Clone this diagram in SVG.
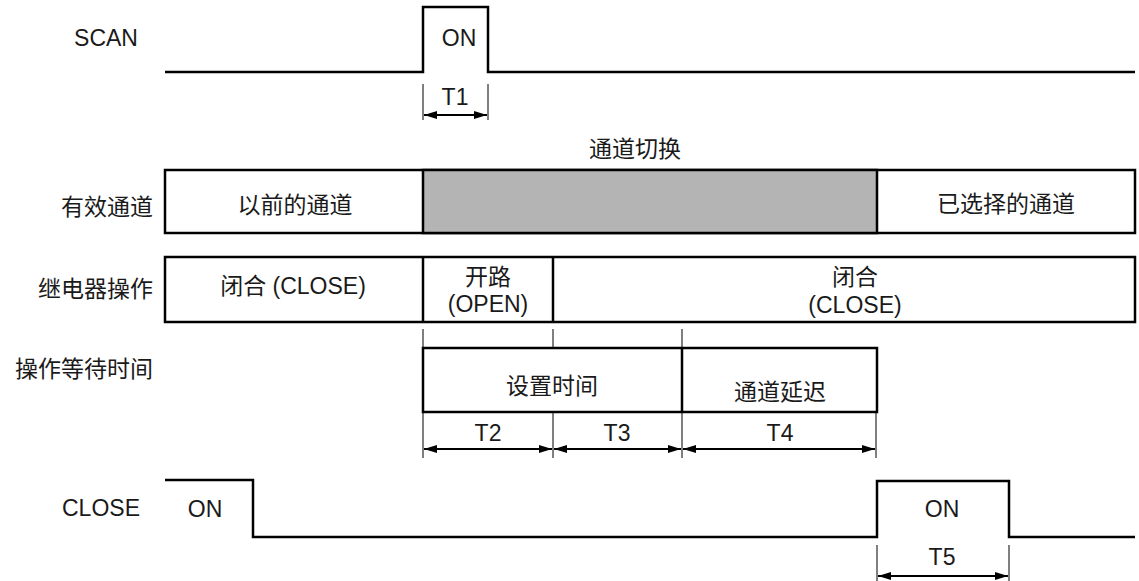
<svg xmlns="http://www.w3.org/2000/svg" width="1139" height="581" viewBox="0 0 1139 581">
<defs>
<marker id="ah" viewBox="0 0 13 8" refX="13" refY="4" markerWidth="13" markerHeight="8" markerUnits="userSpaceOnUse" orient="auto-start-reverse">
<path d="M0,0 L13,4 L0,8 Z" fill="#000"/>
</marker>
<style>
.t{font-family:"Liberation Sans","Noto Sans CJK SC",sans-serif;font-size:23px;fill:#1a1a1a;dominant-baseline:central}
.c{text-anchor:middle}
.r{text-anchor:end}
.w{fill:none;stroke:#000;stroke-width:2.5}
.b{fill:#fff;stroke:#000;stroke-width:2.5}
.g{fill:#b4b4b4;stroke:#000;stroke-width:2.5}
.k{stroke:#000;stroke-width:1}
.a{stroke:#000;stroke-width:2;marker-start:url(#ah);marker-end:url(#ah)}
</style>
</defs>
<rect width="1139" height="581" fill="#fff"/>

<g id="labels">
<text class="t c" x="106" y="38">SCAN</text>
<text class="t r" x="153" y="207">有效通道</text>
<text class="t r" x="153" y="289">继电器操作</text>
<text class="t r" x="153" y="369">操作等待时间</text>
<text class="t c" x="101" y="508">CLOSE</text>
</g>

<g id="scan">
<path class="w" d="M165,72 H423 V7 H488 V72 H1135"/>
<text class="t c" x="459" y="38">ON</text>
</g>

<g id="channel">
<rect class="b" x="165" y="170" width="970" height="63"/>
<rect class="g" x="423" y="170" width="454" height="63"/>
<text class="t c" x="295" y="205">以前的通道</text>
<text class="t c" x="1006" y="204">已选择的通道</text>
<text class="t c" x="635" y="149">通道切换</text>
</g>

<g id="relay">
<rect class="b" x="165" y="257" width="970" height="65"/>
<line class="w" x1="423" y1="257" x2="423" y2="322"/>
<line class="w" x1="553" y1="257" x2="553" y2="322"/>
<text class="t c" x="293" y="286">闭合 (CLOSE)</text>
<text class="t c" x="488" y="277">开路</text>
<text class="t c" x="488" y="304">(OPEN)</text>
<text class="t c" x="855" y="277">闭合</text>
<text class="t c" x="855" y="305">(CLOSE)</text>
</g>

<g id="wait">
<rect class="b" x="423" y="348" width="454" height="64"/>
<line class="w" x1="682" y1="348" x2="682" y2="412"/>
<text class="t c" x="552" y="386">设置时间</text>
<text class="t c" x="780" y="392">通道延迟</text>
</g>

<g id="close">
<path class="w" d="M165,480 H253 V537 H877 V481 H1009 V537 H1135"/>
<text class="t c" x="205" y="509">ON</text>
<text class="t c" x="942" y="509">ON</text>
</g>

<g id="connectors">
<line class="k" x1="423" y1="84" x2="423" y2="120"/>
<line class="k" x1="488" y1="84" x2="488" y2="120"/>
<line class="a" x1="424" y1="115" x2="487" y2="115"/>
<text class="t c" x="455" y="97">T1</text>

<line class="k" x1="423" y1="329" x2="423" y2="348"/>
<line class="k" x1="553" y1="329" x2="553" y2="348"/>
<line class="k" x1="682" y1="329" x2="682" y2="348"/>

<line class="k" x1="423" y1="412" x2="423" y2="458"/>
<line class="k" x1="553" y1="412" x2="553" y2="458"/>
<line class="k" x1="682" y1="412" x2="682" y2="458"/>
<line class="k" x1="876" y1="412" x2="876" y2="458"/>
<line class="a" x1="424" y1="449" x2="552" y2="449"/>
<line class="a" x1="554" y1="449" x2="681" y2="449"/>
<line class="a" x1="683" y1="449" x2="875" y2="449"/>
<text class="t c" x="488" y="433">T2</text>
<text class="t c" x="617" y="433">T3</text>
<text class="t c" x="780" y="433">T4</text>

<line class="k" x1="877" y1="545" x2="877" y2="581"/>
<line class="k" x1="1009" y1="545" x2="1009" y2="581"/>
<line class="a" x1="878" y1="576" x2="1008" y2="576"/>
<text class="t c" x="942" y="557">T5</text>
</g>
</svg>
